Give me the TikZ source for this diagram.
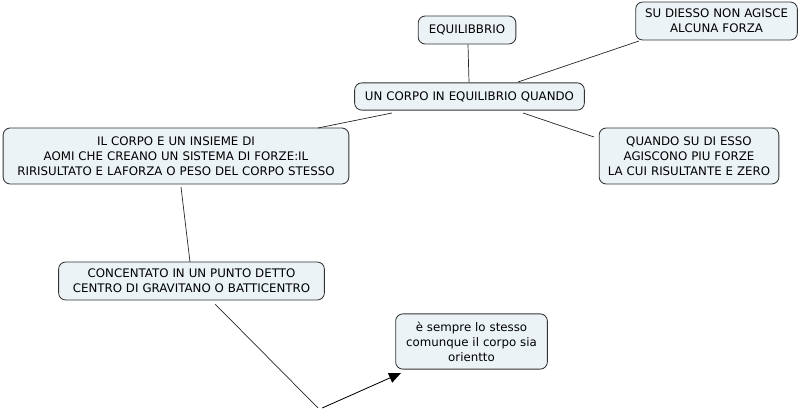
\documentclass[tikz,border=0pt]{standalone}
\usepackage{fontspec}
\setmainfont{DejaVu Sans}
\usetikzlibrary{arrows.meta}
\definecolor{ideafill}{RGB}{236,243,246}

\begin{document}
\begin{tikzpicture}[
    x=0.025cm, y=-0.025cm,
    font=\fontsize{8.4}{10.7}\selectfont,
    idea/.style={draw=black!80, rounded corners=5pt, fill=ideafill, align=center,
                 inner sep=2pt, line width=0.6pt},
    link/.style={draw=black!85, line width=0.5pt},
    flow/.style={-{Triangle[length=3mm, width=2.6mm]}, line width=0.6pt, draw=black}
]
\useasboundingbox (0,0) rectangle (802,418);

\node[idea, text width=2.3cm, minimum height=0.7cm] (equil) at (467,30) {EQUILIBBRIO};
\node[idea, text width=3.9cm, minimum height=0.95cm] (nessuna) at (716.5,21) {SU DIESSO NON AGISCE\\ALCUNA FORZA};
\node[idea, text width=5.6cm, minimum height=0.68cm] (quando) at (469.5,96.5) {UN CORPO IN EQUILIBRIO QUANDO};
\node[idea, text width=8.5cm, minimum height=1.4cm] (insieme) at (176,156) {IL CORPO E UN INSIEME DI\\AOMI CHE CREANO UN SISTEMA DI FORZE:IL\\RIRISULTATO E LAFORZA O PESO DEL CORPO STESSO};
\node[idea, text width=4.35cm, minimum height=1.4cm] (risult) at (689,156) {QUANDO SU DI ESSO\\AGISCONO PIU FORZE\\LA CUI RISULTANTE E ZERO};
\node[idea, text width=6.5cm, minimum height=0.95cm] (centro) at (191.5,281) {CONCENTATO IN UN PUNTO DETTO\\CENTRO DI GRAVITANO O BATTICENTRO};
\node[idea, text width=3.65cm, minimum height=1.38cm] (stesso) at (471.5,341.5) {è sempre lo stesso\\comunque il corpo sia\\orientto};
\coordinate (joint) at (318,408);

% connessioni
\draw[link] (equil.south -| 468,0) -- (quando.north -| 469,0);
\draw[link] (639,41) -- (518,82);
\draw[link] (392,113) -- (318,128);
\draw[link] (523,113) -- (594,137);
\draw[link] (181,187) -- (190,262);
\draw[link] (215,304) -- (joint);
\draw[flow] ([xshift=3]joint) -- (401,373);
\end{tikzpicture}
\end{document}
